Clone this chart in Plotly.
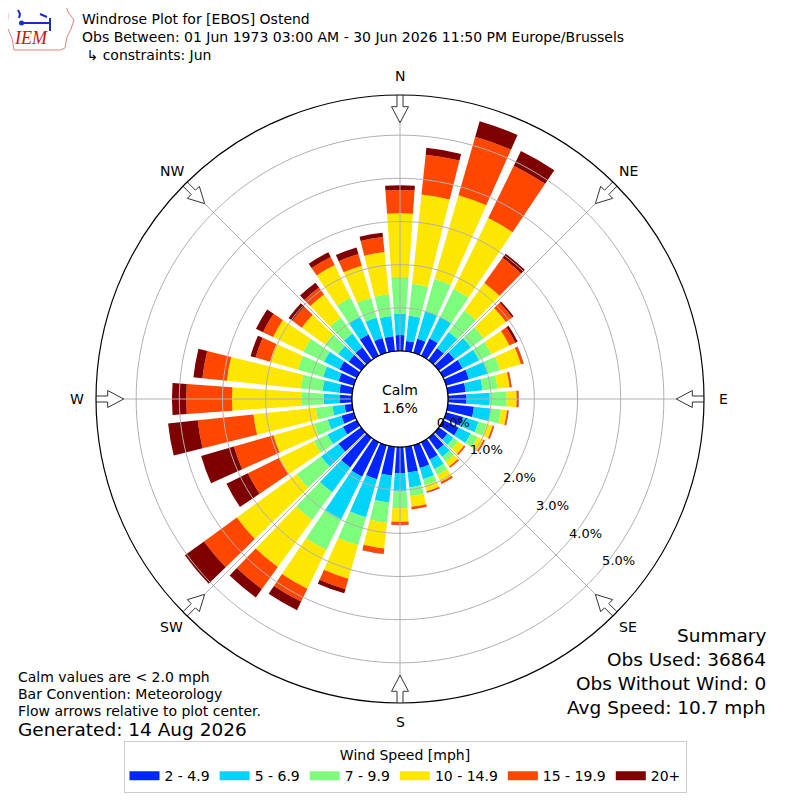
import math
import plotly.graph_objects as go

# wind directions (deg, meteorological) and speed bins
directions = list(range(0, 360, 10))
speed_bins = ["2 - 4.9", "5 - 6.9", "7 - 9.9", "10 - 14.9", "15 - 19.9", "20+"]
bin_colors = ["#0026ff", "#00d4f8", "#7dfc7e", "#fde700", "#ff4700", "#7f0000"]

# frequency (%) per direction for each speed bin
freq_2_5 = [0.37, 0.24, 0.34, 0.45, 0.35, 0.45, 0.50, 0.55, 0.42, 0.43, 0.61, 0.41,
            0.40, 0.25, 0.35, 0.45, 0.55, 0.60, 0.61, 0.67, 0.82, 0.89, 0.85, 0.65,
            0.36, 0.30, 0.18, 0.28, 0.30, 0.37, 0.45, 0.36, 0.37, 0.55, 0.36, 0.35]
freq_5_7 = [0.50, 0.59, 0.66, 0.55, 0.46, 0.47, 0.43, 0.45, 0.39, 0.54, 0.39, 0.37,
            0.31, 0.17, 0.20, 0.25, 0.27, 0.35, 0.42, 0.63, 0.92, 1.10, 0.71, 0.50,
            0.40, 0.33, 0.28, 0.38, 0.39, 0.37, 0.40, 0.30, 0.39, 0.45, 0.49, 0.47]
freq_7_10 = [0.85, 0.74, 0.78, 0.72, 0.61, 0.36, 0.32, 0.30, 0.35, 0.39, 0.24, 0.20,
             0.18, 0.13, 0.13, 0.15, 0.15, 0.20, 0.39, 0.47, 0.67, 0.79, 0.79, 0.70,
             0.35, 0.33, 0.39, 0.50, 0.51, 0.61, 0.53, 0.38, 0.46, 0.50, 0.48, 0.51]
freq_10_15 = [1.47, 2.08, 2.02, 1.83, 0.79, 0.64, 0.46, 0.50, 0.28, 0.23, 0.14, 0.14,
              0.15, 0.17, 0.14, 0.18, 0.14, 0.25, 0.31, 0.60, 0.81, 1.00, 1.35, 1.71,
              0.90, 0.98, 1.45, 1.62, 1.72, 0.67, 0.78, 0.66, 0.66, 0.84, 0.77, 0.98]
freq_15_20 = [0.54, 0.93, 1.41, 1.35, 0.72, 0.18, 0.15, 0.06, 0.04, 0.04, 0.03, 0.03,
              0.04, 0.04, 0.04, 0.05, 0.03, 0.06, 0.07, 0.12, 0.25, 0.33, 0.63, 0.94,
              0.80, 0.95, 1.30, 1.06, 0.57, 0.35, 0.26, 0.27, 0.20, 0.21, 0.28, 0.35]
freq_20_up = [0.11, 0.16, 0.37, 0.38, 0.12, 0.04, 0.06, 0.01, 0.01, 0.01, 0.01, 0.01,
              0.00, 0.00, 0.00, 0.00, 0.01, 0.00, 0.01, 0.01, 0.10, 0.22, 0.24, 0.55,
              0.55, 0.79, 0.69, 0.33, 0.21, 0.12, 0.18, 0.11, 0.14, 0.12, 0.16, 0.10]
all_freqs = [freq_2_5, freq_5_7, freq_7_10, freq_10_15, freq_15_20, freq_20_up]

ring_values = [1, 2, 3, 4, 5]
ring_labels = ["0.0%", "1.0%", "2.0%", "3.0%", "4.0%", "5.0%"]
compass = ["N", "NE", "E", "SE", "S", "SW", "W", "NW"]
compass_deg = [0, 45, 90, 135, 180, 225, 270, 315]

calm_pct = "1.6%"
summary_lines = ["Summary", "Obs Used: 36864", "Obs Without Wind: 0", "Avg Speed: 10.7 mph"]

W = H = 800
OFF = 8                    # page body margin
CX, CY = 400, 399          # plot centre in screen pixels
R_PX, HOLE_PX = 304, 48
RMAX = 5.93
UNIT = (R_PX - HOLE_PX) / RMAX
FONT = "DejaVu Sans"


def to_r(rho):
    return (rho - HOLE_PX) / UNIT


def px(x):
    return (x - OFF) / W


def py(y):
    return 1 - (y - OFF) / H


def path_of(pts, close=False):
    p = "M " + " L ".join(f"{px(x)},{py(y)}" for x, y in pts)
    return p + (" Z" if close else "")


fig = go.Figure()

for name, vals, col in zip(speed_bins, all_freqs, bin_colors):
    fig.add_trace(go.Barpolar(r=vals, theta=directions, width=8, name=name,
                              marker=dict(color=col, line=dict(width=0)),
                              showlegend=False, hoverinfo="skip"))

full = list(range(0, 361, 2))
# grid drawn on top of bars
for v in ring_values:
    fig.add_trace(go.Scatterpolar(r=[v] * len(full), theta=full, mode="lines",
                                  line=dict(color="#b0b0b0", width=1),
                                  showlegend=False, hoverinfo="skip"))
for d in compass_deg:
    fig.add_trace(go.Scatterpolar(r=[0, RMAX], theta=[d, d], mode="lines",
                                  line=dict(color="#b0b0b0", width=1),
                                  showlegend=False, hoverinfo="skip"))
# calm circle edge
fig.add_trace(go.Scatterpolar(r=[0] * len(full), theta=full, mode="lines",
                              line=dict(color="black", width=1.2),
                              showlegend=False, hoverinfo="skip"))

# hollow flow arrows pointing to centre
arrow_shape = [(305.7, -3), (292.3, -3), (292.3, -8.5), (276.3, 0),
               (292.3, 8.5), (292.3, 3), (305.7, 3), (305.7, -3)]
for d in compass_deg:
    rr, tt = [], []
    for s, w in arrow_shape:
        rr.append(to_r(math.hypot(s, w)))
        tt.append(d + math.degrees(math.atan2(w, s)))
    fig.add_trace(go.Scatterpolar(r=rr, theta=tt, mode="lines", fill="toself",
                                  fillcolor="white", line=dict(color="#333333", width=1),
                                  cliponaxis=False, showlegend=False, hoverinfo="skip"))

fig.add_trace(go.Scatterpolar(r=list(range(len(ring_labels))), theta=[130] * len(ring_labels),
                              mode="text", text=ring_labels, textposition="top right",
                              cliponaxis=False,
                              textfont=dict(family=FONT, size=13, color="black"),
                              showlegend=False, hoverinfo="skip"))

# legend swatches
for name, col in zip(speed_bins, bin_colors):
    fig.add_trace(go.Scatterpolar(r=[None], theta=[None], mode="lines", name=name,
                                  line=dict(color=col, width=9)))

ann = []
for lab, d in zip(compass, compass_deg):
    a = math.radians(d)
    ann.append(dict(text=lab, x=px(CX + 323 * math.sin(a)), y=py(CY - 323 * math.cos(a)),
                    xanchor="center", yanchor="middle", font=dict(size=14)))

title_lines = ["Windrose Plot for [EBOS] Ostend",
               "Obs Between: 01 Jun 1973 03:00 AM - 30 Jun 2026 11:50 PM Europe/Brussels",
               " \u21b3 constraints: Jun"]
for i, t in enumerate(title_lines):
    ann.append(dict(text=t, x=px(80), y=py(19 + 18 * i), xanchor="left", yanchor="middle",
                    font=dict(size=14)))

left_notes = ["Calm values are < 2.0 mph", "Bar Convention: Meteorology",
              "Flow arrows relative to plot center."]
for i, t in enumerate(left_notes):
    ann.append(dict(text=t, x=px(16), y=py(677 + 17 * i), xanchor="left", yanchor="middle",
                    font=dict(size=14)))
ann.append(dict(text="Generated: 14 Aug 2026", x=px(16), y=py(729), xanchor="left",
                yanchor="middle", font=dict(size=18.5)))

for i, t in enumerate(summary_lines):
    ann.append(dict(text=t, x=px(768), y=py(635 + 24 * i), xanchor="right", yanchor="middle",
                    font=dict(size=18.5)))

ann.append(dict(text="Calm<br>" + calm_pct, x=px(CX), y=py(CY), xanchor="center",
                yanchor="middle", font=dict(size=14)))
ann.append(dict(text="<i>IEM</i>", x=px(31), y=py(38), xanchor="center", yanchor="middle",
                font=dict(family="Liberation Serif", size=18, color="#cc1111")))
for a in ann:
    a.update(xref="paper", yref="paper", showarrow=False)
    a.setdefault("font", {})
    a["font"].setdefault("color", "black")

# small IEM logo: state outline plus blue station symbol
logo_outline = [(7, 6), (66, 6), (68, 12), (74, 20), (71, 29), (67, 37), (65, 48),
                (60, 50), (14, 50), (12, 38), (7, 27), (8, 16)]
logo_blue = [[(21, 23), (50, 23)], [(50, 18), (50, 31)], [(40, 14), (47, 17)],
             [(18, 10), (20, 14), (19, 18)]]
shapes = [dict(type="path", path=path_of(logo_outline, True), xref="paper", yref="paper",
               line=dict(color="#e58080", width=1))]
for seg in logo_blue:
    shapes.append(dict(type="path", path=path_of(seg), xref="paper", yref="paper",
                       line=dict(color="#1a2fc0", width=2)))
shapes.append(dict(type="circle", xref="paper", yref="paper",
                   x0=px(19), x1=px(24), y0=py(25.5), y1=py(20.5),
                   fillcolor="#1a2fc0", line=dict(width=0)))

fig.update_layout(
    width=W, height=H,
    margin=dict(l=0, r=0, t=0, b=0),
    paper_bgcolor="white",
    font=dict(family=FONT, size=14, color="black"),
    annotations=ann,
    shapes=shapes,
    polar=dict(
        domain=dict(x=[px(CX - R_PX), px(CX + R_PX)], y=[py(CY + R_PX), py(CY - R_PX)]),
        hole=HOLE_PX / R_PX,
        bgcolor="white",
        barmode="stack",
        radialaxis=dict(range=[0, RMAX], showgrid=False, showline=False,
                        showticklabels=False, ticks=""),
        angularaxis=dict(rotation=90, direction="clockwise", showgrid=False,
                         showticklabels=False, ticks="", showline=True,
                         linecolor="black", linewidth=1.2),
    ),
    legend=dict(orientation="h", x=px(405), xanchor="center", y=py(741), yanchor="top",
                title=dict(text="Wind Speed [mph]", side="top center", font=dict(size=14)),
                font=dict(size=14), bordercolor="#cccccc", borderwidth=1,
                bgcolor="white", itemwidth=30),
)

fig.write_html("out.html")
